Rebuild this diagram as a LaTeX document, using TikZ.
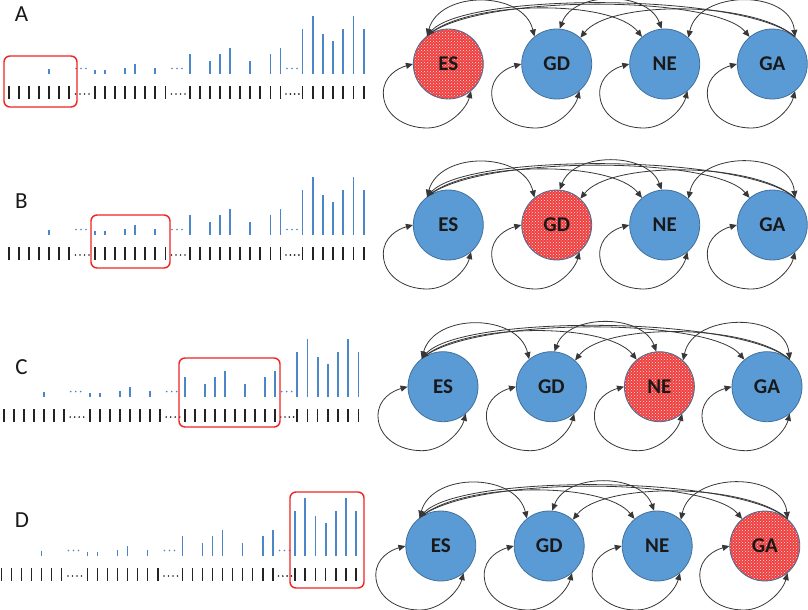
\documentclass[tikz,border=0pt]{standalone}
\usepackage{fontspec}
\setmainfont{Carlito}
\usetikzlibrary{arrows.meta,patterns}
\definecolor{nodeblue}{RGB}{91,155,213}
\definecolor{nodeedge}{RGB}{65,113,156}
\definecolor{nodered}{RGB}{238,62,62}
\definecolor{barblue}{RGB}{74,134,200}
\definecolor{tickcol}{RGB}{35,35,35}
\definecolor{edgecol}{RGB}{55,55,55}
\definecolor{boxred}{RGB}{240,35,35}
\tikzset{
  gnode/.style={circle, minimum size=70pt, inner sep=0pt, draw=nodeedge, line width=0.8pt,
    fill=nodeblue, font=\fontsize{21}{21}\selectfont\bfseries, text=black!90},
  rnode/.style={gnode, preaction={fill=nodered}, pattern=crosshatch dots, pattern color=white!85!nodered},
  link/.style={draw=edgecol, line width=0.8pt, -{Triangle[length=7pt,width=6pt]}},
  dlink/.style={draw=edgecol, line width=0.8pt, {Triangle[length=7pt,width=6pt]}-{Triangle[length=7pt,width=6pt]}},
  bar/.style={draw=barblue, line width=1.8pt},
  tk/.style={draw=tickcol, line width=1.7pt},
  window/.style={draw=boxred, line width=1.4pt, rounded corners=6pt},
  plabel/.style={font=\fontsize{23}{23}\selectfont, inner sep=0pt, text=black!90}
}
\newcommand\drawchart[2]{%
\begin{scope}[shift={(#1,#2)}]
\foreach \x in {9,19,29,39,49,59,69,95,105,115,125,135,145,155,165.5,190,200,210,220,230,240,250,260,270.5,280.5,302.5,312.7,322.9,333.1,343.3,353.5,363.7}
  \draw[tk] (\x,12) -- (\x,25);
\foreach \x/\h in {49/4.7,95/4,105/4,125/6.3,135/9.7,155/6.3,190/19.7,210/13,220/19.7,230/26.3,250/13,270.5/19.7,280.5/26.3,302.5/44.7,312.7/58.3,322.9/39.7,333.1/33,343.3/44.7,353.5/58.3,363.7/44.7}
  \draw[bar] (\x,0) -- (\x,-\h);
\foreach \x in {76,81,86,172,177,182,287,292,297}
  \fill[barblue] (\x,-5.5) circle[radius=0.95];
\foreach \x in {75.5,80,84.5,89,171.5,176,180.5,185,286,290.3,294.6,298.9}
  \fill[tickcol] (\x,20) circle[radius=0.95];
\end{scope}}
\newcommand\drawgraph[7]{%
\begin{scope}[shift={(#1,#2)}, name prefix=#3-]
\node[#4] (ES) at (448.3,0) {ES};
\node[#5] (GD) at (556.7,0) {GD};
\node[#6] (NE) at (664.7,0) {NE};
\node[#7] (GA) at (772.3,0) {GA};
\foreach \n in {ES,GD,NE,GA}
  \draw[dlink] (\n.180) .. controls ([shift={(-50,4)}]\n.center) and ([shift={(-65,12)}]\n.center) ..
    ([shift={(-65,29)}]\n.center) .. controls ([shift={(-65,50)}]\n.center) and ([shift={(-45,64)}]\n.center) ..
    ([shift={(-21,64)}]\n.center) .. controls ([shift={(0,64)}]\n.center) and ([shift={(18,45)}]\n.center) .. (\n.310);
\draw[dlink] (ES.127) .. controls +(13,-46) and +(-11,-46) .. (GD.129);
\draw[dlink] (GD.85) .. controls +(14,-38) and +(-14,-38) .. (NE.95);
\draw[dlink] (NE.48) .. controls +(10,-48) and +(-5,-48) .. (GA.50);
\draw[link] (ES.127) .. controls +(40,-36) and +(-30,-38) .. (NE.130);
\draw[link] (ES.127) .. controls +(50,-42) and +(-35,-42) .. (GA.130);
\draw[link] (GA.50) .. controls +(-40,-36) and +(30,-38) .. (GD.48);
\draw[link] (GA.50) .. controls +(-50,-44) and +(40,-44) .. (ES.127);
\end{scope}}
\begin{document}
\begin{tikzpicture}[x=1pt,y=-1pt]
\fill[white] (0,0) rectangle (808,610);
\useasboundingbox (0,0) rectangle (808,610);
% panel labels
\node[plabel] (labA) at (21.5,14.5) {A};
\node[plabel] (labB) at (21.5,200.8) {B};
\node[plabel] (labC) at (21.5,367) {C};
\node[plabel] (labD) at (22,520) {D};
% charts
\drawchart{0}{74}
\drawchart{0}{235}
\drawchart{-5.3}{397}
\drawchart{-7.5}{556}
% windows
\draw[window] (4,56) rectangle (77,107);
\draw[window] (91,215) rectangle (170,268);
\draw[window] (179,358) rectangle (280,427);
\draw[window] (290,492) rectangle (364,588);
% graphs
\drawgraph{0}{64}{A}{rnode}{gnode}{gnode}{gnode}
\drawgraph{0}{225}{B}{gnode}{rnode}{gnode}{gnode}
\drawgraph{-5.3}{386.7}{C}{gnode}{gnode}{rnode}{gnode}
\drawgraph{-7.5}{546}{D}{gnode}{gnode}{gnode}{rnode}
\end{tikzpicture}
\end{document}
